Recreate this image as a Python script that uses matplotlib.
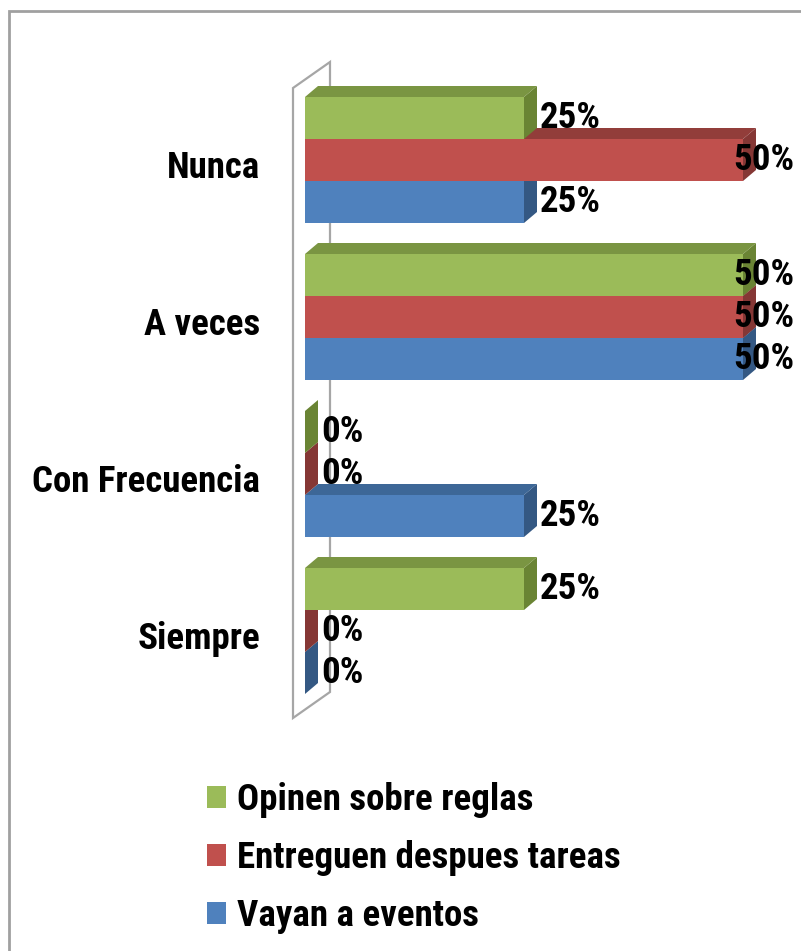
import matplotlib
matplotlib.use("Agg")
import matplotlib.pyplot as plt
from matplotlib.patches import Polygon, Patch, Rectangle
from matplotlib import font_manager
from matplotlib.font_manager import FontProperties
from matplotlib.textpath import TextPath

# ---- data ----
categories = ["Nunca", "A veces", "Con Frecuencia", "Siempre"]
series_names = ["Opinen sobre reglas", "Entreguen despues tareas", "Vayan a eventos"]
opinen = [25, 50, 0, 25]
entreguen = [50, 50, 0, 0]
vayan = [25, 50, 25, 0]
series_values = [opinen, entreguen, vayan]

# front / top / side shades for each series
front_colors = ["#9BBB59", "#C0504D", "#4F81BD"]
top_colors = ["#7A9542", "#923D3A", "#3D6797"]
side_colors = ["#6A8434", "#853735", "#345883"]

W, H, DPI = 801, 951, 100
LONGEST = "Con Frecuencia"
TARGET_W_PX = 225.0      # drawn width of the longest category name
TARGET_RATIO = 225.0 / 27.0  # width of that name relative to its cap height
SANS_FAMILIES = ("Liberation Sans", "Arial", "Roboto", "Noto Sans", "Open Sans",
                 "DejaVu Sans", "Lato", "Inter")


def _is_plain_bold(w):
    if isinstance(w, str):
        return w == "bold"
    return w == 700


def pick_font():
    """Choose the narrowest-looking plain-bold grotesque sans that is installed."""
    best = None
    for f in font_manager.fontManager.ttflist:
        name = f.name
        if not name.startswith(SANS_FAMILIES):
            continue
        if not _is_plain_bold(f.weight) or f.style != "normal":
            continue
        if any(k in name for k in ("Mono", "Serif", "CJK", "Math", "Display")):
            continue
        try:
            p = FontProperties(fname=f.fname)
            wbox = TextPath((0, 0), LONGEST, size=100, prop=p).get_extents()
            cbox = TextPath((0, 0), "H", size=100, prop=p).get_extents()
        except Exception:
            continue
        if cbox.height <= 0:
            continue
        ratio = wbox.width / cbox.height
        score = abs(ratio - TARGET_RATIO)
        if best is None or score < best[0]:
            best = (score, f.fname, wbox.width)
    return best


choice = pick_font()
if choice is not None:
    _, font_file, w100 = choice
    FS = TARGET_W_PX / (w100 / 100.0 * DPI / 72.0)
    fp = FontProperties(fname=font_file, size=FS)
else:
    FS = 22.5
    fp = FontProperties(family=["Liberation Sans", "DejaVu Sans"], weight="bold", size=FS)

fig = plt.figure(figsize=(W / DPI, H / DPI), dpi=DPI)
fig.patch.set_facecolor("white")

# axes spans the whole canvas; scale: 0% at px 305, 50% at px 743
px_per_pct = (743 - 305) / 50.0
x0_px = 305.0
y_top_px, cat_step_px = 81.5, 157.0
ax = fig.add_axes([0, 0, 1, 1])
ax.set_xlim((0 - x0_px) / px_per_pct, (W - x0_px) / px_per_pct)
ax.set_ylim((H - y_top_px) / cat_step_px - 0.5, (0 - y_top_px) / cat_step_px - 0.5)
ax.axis("off")


def px2x(p):
    return (p - x0_px) / px_per_pct


def px2y(p):
    return (p - y_top_px) / cat_step_px - 0.5


# outer chart frame (runs off the right and bottom edges)
fig.patches.append(Rectangle((8.5 / W, -0.05), 1.2, 1 - 10.5 / H + 0.05,
                             transform=fig.transFigure, fill=False,
                             edgecolor="#A0A0A0", linewidth=2.0))

# 3D depth of each bar and the wall
ddx = 13 / px_per_pct
ddy = -11 / cat_step_px
bar_h = 42 / cat_step_px

wall_front, wall_back = px2x(293), px2x(330)
wall_pts = [(wall_front, px2y(88)), (wall_back, px2y(62)),
            (wall_back, px2y(692)), (wall_front, px2y(718))]
ax.add_patch(Polygon(wall_pts, closed=True, fill=False, edgecolor="#A6A6A6",
                     linewidth=1.6, zorder=1))

label_items = []
for ci, cat in enumerate(categories):
    # draw bottom bar first so upper bars overlap correctly
    for si in [2, 1, 0]:
        v = series_values[si][ci]
        ytop = ci - 1.5 * bar_h + si * bar_h
        ybot = ytop + bar_h
        side = [(v, ytop), (v + ddx, ytop + ddy), (v + ddx, ybot + ddy), (v, ybot)]
        top = [(0, ytop), (ddx, ytop + ddy), (v + ddx, ytop + ddy), (v, ytop)]
        ax.add_patch(Polygon(side, closed=True, facecolor=side_colors[si],
                             edgecolor="none", zorder=2))
        if v > 0:
            ax.add_patch(Polygon(top, closed=True, facecolor=top_colors[si],
                                 edgecolor="none", zorder=2))
            ax.add_patch(Rectangle((0, ytop), v, bar_h, facecolor=front_colors[si],
                                   edgecolor="none", zorder=2))
        t = ax.text(v + ddx + 3 / px_per_pct, ytop + bar_h / 2, f"{v}%",
                    ha="left", va="center", fontproperties=fp, color="black", zorder=5)
        label_items.append(t)
    # category label
    ax.text(px2x(260), ci + 8 / cat_step_px, cat, ha="right", va="center",
            fontproperties=fp, color="black")

# keep value labels inside the chart area
fig.canvas.draw()
renderer = fig.canvas.get_renderer()
right_limit = 794
for t in label_items:
    bb = t.get_window_extent(renderer)
    if bb.x1 > right_limit:
        x, y = t.get_position()
        t.set_position((x - (bb.x1 - right_limit) / px_per_pct, y))

# legend below the plot: 19 px swatches, 58 px row pitch
fs_px = FS * DPI / 72.0
handles = [Patch(facecolor=c, edgecolor="none") for c in front_colors]


def make_legend(anchor_px, spacing):
    return fig.legend(handles, series_names, loc="upper left",
                      bbox_to_anchor=(anchor_px[0] / W, 1 - anchor_px[1] / H),
                      frameon=False, prop=fp,
                      handlelength=19 / fs_px, handleheight=19 / fs_px,
                      handletextpad=11 / fs_px,
                      labelspacing=spacing, borderpad=0, borderaxespad=0)


anchor = (207.0, 780.0)
spacing = 0.6
leg = make_legend(anchor, spacing)
for _ in range(3):
    fig.canvas.draw()
    texts = leg.get_texts()
    b0 = texts[0].get_window_extent(renderer)
    b1 = texts[1].get_window_extent(renderer)
    pitch = (b0.y0 + b0.y1) / 2 - (b1.y0 + b1.y1) / 2
    sw = leg.legend_handles[0].get_window_extent(renderer)
    first_center = H - (sw.y0 + sw.y1) / 2
    leg.remove()
    spacing += (58.0 - pitch) / fs_px
    anchor = (anchor[0] + (207.0 - sw.x0), anchor[1] + (797.0 - first_center))
    leg = make_legend(anchor, spacing)

fig.savefig("out.png", dpi=DPI, facecolor="white")
